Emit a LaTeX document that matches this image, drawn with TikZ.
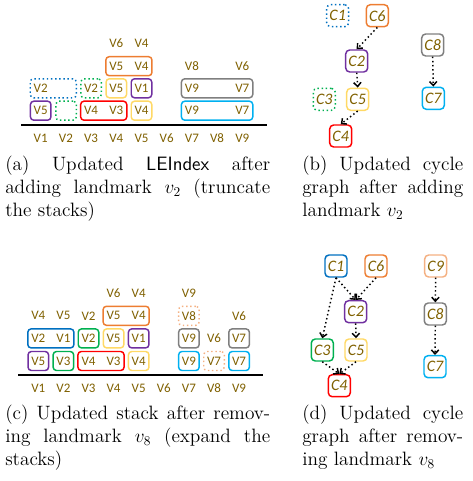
\documentclass[tikz,border=0pt]{standalone}
\usepackage{fontspec}
\newfontfamily\carl{Carlito}
\usetikzlibrary{arrows.meta}
\definecolor{vcol}{HTML}{7F6000}
\definecolor{cpur}{HTML}{7030A0}
\definecolor{cred}{HTML}{FF0000}
\definecolor{cyel}{HTML}{FFD966}
\definecolor{cora}{HTML}{ED7D31}
\definecolor{cblu}{HTML}{0070C0}
\definecolor{cgrn}{HTML}{00B050}
\definecolor{cgry}{HTML}{7F7F7F}
\definecolor{ccya}{HTML}{00B0F0}
\definecolor{cpch}{HTML}{F4B183}
\begin{document}
\begin{tikzpicture}[x=0.75pt,y=-0.75pt,
  lab/.style={text=vcol,font=\carl\fontsize{9.75pt}{11pt}\selectfont,inner sep=0pt},
  vb/.style={draw,rounded corners=2.5pt,line width=1.1pt,minimum height=14.25pt,inner sep=0pt,text=vcol,font=\carl\fontsize{9.75pt}{11pt}\selectfont},
  one/.style={vb,minimum width=15.4pt},
  two/.style={vb,minimum width=34.6pt},
  three/.style={vb,minimum width=53.5pt},
  cn/.style={draw,rounded corners=3pt,line width=1.1pt,minimum size=16.5pt,inner sep=0pt,text=vcol,font=\carl\itshape\fontsize{12pt}{14pt}\selectfont},
  arr/.style={dotted,line width=1.1pt,-{Straight Barb[length=3pt,width=5.5pt]}},
  axisline/.style={line width=1.5pt},
  captxt/.style={inner sep=0pt,anchor=base west,font=\fontsize{14.5pt}{17.6pt}\selectfont}
]
\useasboundingbox (0,0) rectangle (472,481);

%% ---------------- panel (a) ----------------
% row 1
\node[one,draw=cpur] (a11) at (40.7,110.7) {V5};
\node[one,draw=cgrn,dotted] (a12) at (66.1,110.7) {};
\node[two,draw=cred] (a13) at (103.7,110.7) {};
\node[lab] (a13l) at (91.1,110.7) {V4};
\node[lab] (a13r) at (116.3,110.7) {V3};
\node[one,draw=cyel] (a15) at (141.5,110.7) {V4};
\node[three,draw=ccya] (a17) at (217.1,110.7) {};
\node[lab] (a17l) at (191.9,110.7) {V9};
\node[lab] (a17r) at (242.3,110.7) {V7};
% row 2
\node[two,draw=cblu,dotted] (a21) at (53.3,88.3) {};
\node[lab] (a21l) at (40.7,88.3) {V2};
\node[one,draw=cgrn,dotted] (a23) at (91.1,88.3) {V2};
\node[one,draw=cyel] (a24) at (116.3,88.3) {V5};
\node[one,draw=cpur] (a25) at (141.5,88.3) {V1};
\node[three,draw=cgry] (a27) at (217.1,88.3) {};
\node[lab] (a27l) at (191.9,88.3) {V9};
\node[lab] (a27r) at (242.3,88.3) {V7};
% row 3
\node[two,draw=cora] (a34) at (128.9,66.2) {};
\node[lab] (a34l) at (116.3,66.2) {V5};
\node[lab] (a34r) at (141.5,66.2) {V4};
\node[lab] (a37) at (191.9,66.2) {V8};
\node[lab] (a39) at (242.3,66.2) {V6};
% row 4
\node[lab] (a44) at (116.3,43.5) {V6};
\node[lab] (a45) at (141.5,43.5) {V4};
% axis
\coordinate (aaxL) at (21,125);
\coordinate (aaxR) at (267,125);
\draw[axisline] (aaxL) -- (aaxR);
\foreach \i [count=\k from 0] in {1,...,9}
  \node[lab] (acol\i) at (40.7+25.2*\k,138) {V\i};

%% ---------------- panel (c) ----------------
% row 1
\node[one,draw=cpur] (c11) at (38.3,361) {V5};
\node[one,draw=cgrn] (c12) at (63.4,361) {V3};
\node[two,draw=cred] (c13) at (101,361) {};
\node[lab] (c13l) at (88.5,361) {V4};
\node[lab] (c13r) at (113.6,361) {V3};
\node[one,draw=cyel] (c15) at (138.7,361) {V4};
\node[one,draw=ccya] (c17) at (188.9,361) {V9};
\node[one,draw=cpch,dotted] (c18) at (214.0,361) {V7};
\node[one,draw=ccya] (c19) at (239.1,361) {V7};
% row 2
\node[two,draw=cblu] (c21) at (50.85,338.4) {};
\node[lab] (c21l) at (38.3,338.4) {V2};
\node[lab] (c21r) at (63.4,338.4) {V1};
\node[one,draw=cgrn] (c23) at (88.5,338.4) {V2};
\node[one,draw=cyel] (c24) at (113.6,338.4) {V5};
\node[one,draw=cpur] (c25) at (138.7,338.4) {V1};
\node[one,draw=cgry] (c27) at (188.9,338.4) {V9};
\node[lab] (c28) at (214.0,338.4) {V6};
\node[one,draw=cgry] (c29) at (239.1,338.4) {V7};
% row 3
\node[lab] (c31) at (38.3,315.8) {V4};
\node[lab] (c32) at (63.4,315.8) {V5};
\node[lab] (c33) at (88.5,315.8) {V2};
\node[two,draw=cora] (c34) at (126.15,315.8) {};
\node[lab] (c34l) at (113.6,315.8) {V5};
\node[lab] (c34r) at (138.7,315.8) {V4};
\node[one,draw=cpch,dotted] (c37) at (188.9,315.8) {V8};
\node[lab] (c39) at (239.1,315.8) {V6};
% row 4
\node[lab] (c44) at (113.6,293.2) {V6};
\node[lab] (c45) at (138.7,293.2) {V4};
\node[lab] (c47) at (188.9,293.2) {V9};
% axis
\coordinate (caxL) at (18,375);
\coordinate (caxR) at (263,375);
\draw[axisline] (caxL) -- (caxR);
\foreach \i [count=\k from 0] in {1,...,9}
  \node[lab] (ccol\i) at (38.3+25.1*\k,388.3) {V\i};

%% ---------------- panel (b) ----------------
\node[cn,draw=cblu,dotted] (bC1) at (337.7,15.7) {C1};
\node[cn,draw=cora] (bC6) at (377.3,15.7) {C6};
\node[cn,draw=cpur] (bC2) at (356.7,61) {C2};
\node[cn,draw=cgrn,dotted] (bC3) at (324.3,99.3) {C3};
\node[cn,draw=cyel] (bC5) at (357.7,99.3) {C5};
\node[cn,draw=cred] (bC4) at (340.7,136) {C4};
\node[cn,draw=cgry] (bC8) at (432.7,45) {C8};
\node[cn,draw=ccya] (bC7) at (433.3,98.3) {C7};
\draw[arr] (bC6.south) -- (bC2.north);
\draw[arr] (bC2.south) -- (bC5.north);
\draw[arr] (bC5.south) -- (bC4.north);
\draw[arr] (bC8.south) -- (bC7.north);

%% ---------------- panel (d) ----------------
\node[cn,draw=cblu] (dC1) at (336,266) {C1};
\node[cn,draw=cora] (dC6) at (376,266) {C6};
\node[cn,draw=cpch] (dC9) at (435.7,266) {C9};
\node[cn,draw=cpur] (dC2) at (355.7,311.7) {C2};
\node[cn,draw=cgry] (dC8) at (435.3,314) {C8};
\node[cn,draw=cgrn] (dC3) at (322.3,350) {C3};
\node[cn,draw=cyel] (dC5) at (356,350) {C5};
\node[cn,draw=cred] (dC4) at (339.3,385.7) {C4};
\node[cn,draw=ccya] (dC7) at (435,366.7) {C7};
\draw[arr] (dC1.south) -- (dC2.north);
\draw[arr] (dC6.south) -- (dC2.north);
\draw[arr] (dC1.south) -- (dC3.north);
\draw[arr] (dC2.south) -- (dC5.north);
\draw[arr] (dC3.south) -- (dC4.north);
\draw[arr] (dC5.south) -- (dC4.north);
\draw[arr] (dC9.south) -- (dC8.north);
\draw[arr] (dC8.south) -- (dC7.north);

%% ---------------- captions ----------------
\node[captxt] (capa) at (5,170) {\parbox[t]{198.75pt}{%
  \makebox[\linewidth][s]{(a)\ Updated \textsf{LEIndex} after}\\
  \makebox[\linewidth][s]{adding landmark $v_2$ (truncate}\\
  the stacks)}};
\node[captxt] (capb) at (302,170) {\parbox[t]{120.75pt}{%
  \makebox[\linewidth][s]{(b) Updated cycle}\\
  \makebox[\linewidth][s]{graph after adding}\\
  landmark $v_2$}};
\node[captxt] (capc) at (5,419) {\parbox[t]{198.75pt}{%
  \makebox[\linewidth][s]{(c) Updated stack after remov-}\\
  \makebox[\linewidth][s]{ing landmark $v_8$ (expand the}\\
  stacks)}};
\node[captxt] (capd) at (302,419) {\parbox[t]{120.75pt}{%
  \makebox[\linewidth][s]{(d) Updated cycle}\\
  \makebox[\linewidth][s]{graph after remov-}\\
  ing landmark $v_8$}};
\end{tikzpicture}
\end{document}
